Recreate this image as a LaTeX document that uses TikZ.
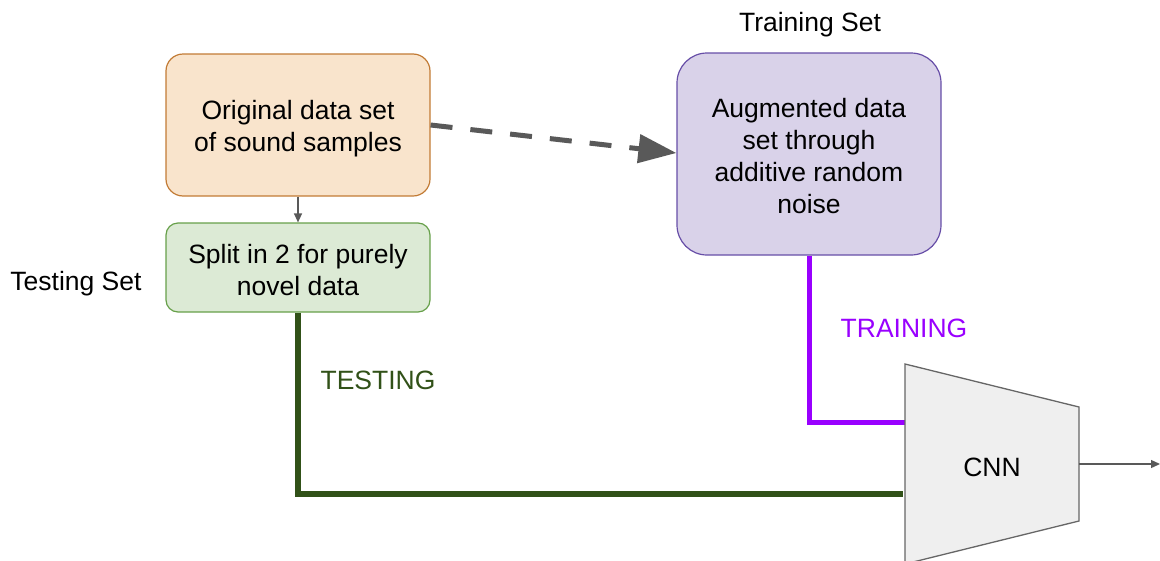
\documentclass[tikz,border=0pt]{standalone}
\usepackage{fontspec}
\setmainfont{Liberation Sans}
\usetikzlibrary{arrows.meta}
\definecolor{origfill}{HTML}{F9E4CC}
\definecolor{origdraw}{HTML}{C27B35}
\definecolor{splitfill}{HTML}{DCEAD5}
\definecolor{splitdraw}{HTML}{67A04A}
\definecolor{augfill}{HTML}{D9D2E9}
\definecolor{augdraw}{HTML}{674EA7}
\definecolor{trainc}{HTML}{9900FF}
\definecolor{testc}{HTML}{315118}
\definecolor{arrowgray}{HTML}{595959}
\definecolor{cnnfill}{HTML}{EFEFEF}
\definecolor{cnndraw}{HTML}{666666}
% extra room above the first text line, which lowers the text inside a box
\newcommand{\toproom}[1]{\rule{0pt}{#1}}
\tikzset{
  lbl/.style={font=\fontsize{26.5}{32}\selectfont, align=center, inner sep=0pt},
  box/.style={lbl, draw, line width=1.2pt},
  thinarrow/.style={draw=arrowgray, line width=1.3pt, -{Triangle[length=9pt,width=8pt]}},
}
\begin{document}
\begin{tikzpicture}[x=1pt,y=-1pt]
\useasboundingbox (0,0) rectangle (1160,560);

% data boxes
\node[box, fill=origfill, draw=origdraw, minimum width=264pt, minimum height=142pt,
      rounded corners=17pt] (orig) at (298,125) {\toproom{26pt}Original data set\\of sound samples};
\node[box, fill=splitfill, draw=splitdraw, minimum width=264pt, minimum height=89pt,
      rounded corners=12pt] (split) at (298,267.5) {\toproom{24pt}Split in 2 for purely\\novel data};
\node[box, fill=augfill, draw=augdraw, minimum width=264pt, minimum height=202pt,
      rounded corners=30pt] (aug) at (809,154) {\toproom{24pt}Augmented data\\set through\\additive random\\noise};

% set captions
\node[lbl] (trainset) at (810,25) {Training Set};
\node[lbl] (testset) at (76,284) {Testing Set};

% CNN block
\coordinate (cnnA) at (905,364);
\coordinate (cnnB) at (1079,407);
\coordinate (cnnC) at (1079,521);
\coordinate (cnnD) at (905,564);
\coordinate (trainin) at (905,422);
\coordinate (testin) at (903,494);
\coordinate (cnnout) at (1079,464);
\coordinate (result) at (1160,464);

% connectors
\draw[thinarrow] (orig.south) -- (split.north);
\draw[draw=arrowgray, line width=5pt, dash pattern=on 22pt off 18pt,
      -{Triangle[length=38pt,width=28pt]}] (orig.east |- 0,125) -- (aug.west |- 0,153);
\draw[draw=trainc, line width=5pt] (aug.south) |- (trainin);
\draw[draw=testc, line width=6pt] (split.south) |- (testin);

\filldraw[fill=cnnfill, draw=cnndraw, line width=1.3pt]
  (cnnA) -- (cnnB) -- (cnnC) -- (cnnD) -- cycle;
\node[lbl] (cnn) at (992,467) {CNN};
\draw[thinarrow] (cnnout) -- (result);

% path labels
\node[lbl, text=trainc] (trainlbl) at (904,328) {TRAINING};
\node[lbl, text=testc] (testlbl) at (378,380) {TESTING};
\end{tikzpicture}
\end{document}
